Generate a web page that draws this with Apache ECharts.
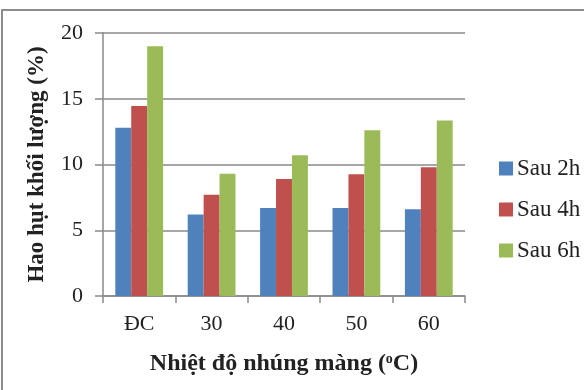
<!DOCTYPE html>
<html><head><meta charset="utf-8">
<script src="https://cdn.jsdelivr.net/npm/echarts@6/dist/echarts.min.js"></script>
<style>html,body{margin:0;padding:0;background:#fff}#c{width:584px;height:390px}</style>
</head><body><div id="c"></div>
<script>
var categories = ['ĐC', '30', '40', '50', '60'];
var sau2h = [12.8, 6.2, 6.7, 6.7, 6.6];
var sau4h = [14.45, 7.7, 8.9, 9.25, 9.8];
var sau6h = [19.0, 9.3, 10.7, 12.6, 13.35];
var seriesNames = ['Sau 2h', 'Sau 4h', 'Sau 6h'];
var colors = ['#4F81BD', '#C0504D', '#9BBB59'];
var font = 'Liberation Serif';

var chart = echarts.init(document.getElementById('c'));
var data = [sau2h, sau4h, sau6h];
chart.setOption({
  animation: false,
  color: colors,
  graphic: [{type: 'rect', shape: {x: 2, y: 10, width: 600, height: 400}, style: {fill: 'none', stroke: '#8c8c8c', lineWidth: 2}}],
  grid: {left: 103, right: 119, top: 33, bottom: 94},
  legend: {
    orient: 'vertical', left: 494, top: 152, itemGap: 18,
    itemWidth: 14, itemHeight: 14, icon: 'rect',
    textStyle: {fontFamily: font, fontSize: 23, color: '#222', padding: [0, 0, 0, -1]},
    data: seriesNames
  },
  xAxis: {
    type: 'category', data: categories,
    axisLine: {lineStyle: {color: '#8a8a8a', width: 1.5}},
    axisTick: {show: true, length: 7, lineStyle: {color: '#8a8a8a', width: 1.5}},
    axisLabel: {fontFamily: font, fontSize: 22, color: '#222', margin: 17},
    name: '{a|Nhiệt độ nhúng màng (}{s|o}{a|C)}', nameLocation: 'middle', nameGap: 56,
    nameTextStyle: {rich: {a: {fontFamily: font, fontSize: 24, fontWeight: 'bold', color: '#222'},
                            s: {fontFamily: font, fontSize: 14, fontWeight: 'bold', color: '#222', verticalAlign: 'top', padding: [0,0,10,0]}}}
  },
  yAxis: {
    type: 'value', min: 0, max: 20, interval: 5,
    axisLine: {show: true, lineStyle: {color: '#8a8a8a', width: 1.5}},
    axisTick: {show: true, length: 8, lineStyle: {color: '#8a8a8a', width: 1.5}},
    splitLine: {lineStyle: {color: '#8a8a8a', width: 1.5}},
    axisLabel: {fontFamily: font, fontSize: 22, color: '#222', margin: 20},
    name: 'Hao hụt khối lượng (%)', nameLocation: 'middle', nameGap: 54, nameRotate: 90,
    nameTextStyle: {fontFamily: font, fontSize: 23, fontWeight: 'bold', color: '#222'}
  },
  series: seriesNames.map(function (n, i) {
    return {name: n, type: 'bar', data: data[i], barGap: '0%', barCategoryGap: '34%', itemStyle: {color: colors[i]}};
  })
});
</script></body></html>
